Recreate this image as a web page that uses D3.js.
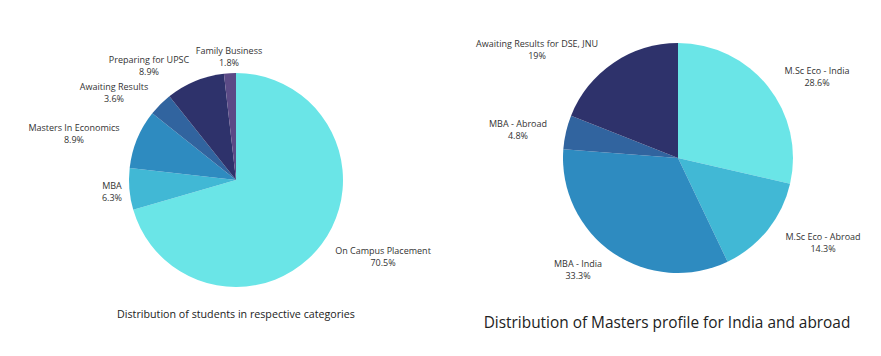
<!DOCTYPE html>
<html>
<head>
<meta charset="utf-8">
<script src="https://cdn.jsdelivr.net/npm/d3@7"></script>
<style>
  html, body { margin: 0; padding: 0; background: #ffffff; }
  svg { display: block; }
</style>
</head>
<body>
<svg id="chart" width="881" height="356"></svg>
<script>
// ---- Data ----
const leftCategories = ["On Campus Placement", "MBA", "Masters In Economics", "Awaiting Results", "Preparing for UPSC", "Family Business"];
const leftValues = [70.5, 6.3, 8.9, 3.6, 8.9, 1.8];
const leftTitle = "Distribution of students in respective categories";

const rightCategories = ["M.Sc Eco - India", "M.Sc Eco - Abroad", "MBA - India", "MBA - Abroad", "Awaiting Results for DSE, JNU"];
const rightValues = [28.6, 14.3, 33.3, 4.8, 19];
const rightValueLabels = ["28.6%", "14.3%", "33.3%", "4.8%", "19%"];
const rightTitle = "Distribution of Masters profile for India and abroad";

// ---- Styles / layout ----
const leftColors = ["#6ae5e7", "#41b8d5", "#2e8bc0", "#31649f", "#2e326b", "#5b4a86"];
const rightColors = ["#6ae5e7", "#41b8d5", "#2e8bc0", "#31649f", "#2e326b"];
const FONT = "'Open Sans', 'Noto Sans', sans-serif";
const TEXT = "#333333";

const leftLayout = {
  cx: 236, cy: 180, r: 107,
  // label offsets from pie centre (label block centre)
  labels: [[147, 76], [-124, 11], [-162, -47], [-122, -88], [-87, -115], [-7, -124]],
  labelSize: 9, title: {x: 236, y: 318, size: 10.7}
};
const rightLayout = {
  cx: 678, cy: 158, r: 115,
  labels: [[139, -82], [145, 84], [-100, 111], [-160, -29], [-141, -109]],
  labelSize: 9, title: {x: 667, y: 328, size: 15.4}
};

const svg = d3.select("#chart");

function drawPie(categories, values, valueLabels, colors, layout, title) {
  const g = svg.append("g").attr("transform", `translate(${layout.cx},${layout.cy})`);
  const pie = d3.pie().sort(null).value(d => d)
    .startAngle(0).endAngle(2 * Math.PI);
  const arc = d3.arc().innerRadius(0).outerRadius(layout.r);
  const color = d3.scaleOrdinal().domain(categories).range(colors);
  const arcs = pie(values);

  g.selectAll("path.slice").data(arcs).enter().append("path")
    .attr("class", "slice")
    .attr("d", arc)
    .attr("fill", (d, i) => color(categories[i]));

  const lab = g.selectAll("g.label").data(arcs).enter().append("g")
    .attr("class", "label")
    .attr("transform", (d, i) => `translate(${layout.labels[i][0]},${layout.labels[i][1]})`);
  lab.append("text")
    .attr("text-anchor", "middle")
    .attr("y", -2)
    .attr("font-family", FONT).attr("font-size", layout.labelSize).attr("fill", TEXT)
    .text((d, i) => categories[i]);
  lab.append("text")
    .attr("text-anchor", "middle")
    .attr("y", 10)
    .attr("font-family", FONT).attr("font-size", layout.labelSize).attr("fill", TEXT)
    .text((d, i) => valueLabels[i]);

  svg.append("text")
    .attr("x", layout.title.x).attr("y", layout.title.y)
    .attr("text-anchor", "middle")
    .attr("font-family", FONT).attr("font-size", layout.title.size).attr("fill", "#222222")
    .text(title);
}

const leftValueLabels = leftValues.map(v => v + "%");
drawPie(leftCategories, leftValues, leftValueLabels, leftColors, leftLayout, leftTitle);
drawPie(rightCategories, rightValues, rightValueLabels, rightColors, rightLayout, rightTitle);
</script>
</body>
</html>
